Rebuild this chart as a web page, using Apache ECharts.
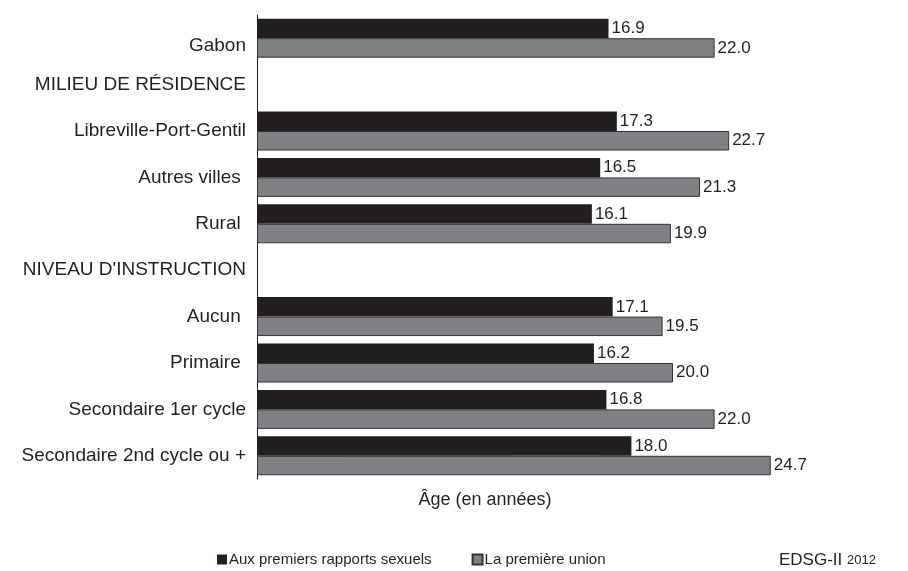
<!DOCTYPE html>
<html>
<head>
<meta charset="utf-8">
<script src="https://cdn.jsdelivr.net/npm/echarts@6/dist/echarts.min.js"></script>
<style>
  html, body { margin: 0; padding: 0; background: #fff; }
  #chart { width: 908px; height: 571px; }
</style>
</head>
<body>
<div id="chart"></div>
<script>
// categories, top to bottom (header rows have no bars)
const categories = [
  'Gabon',
  'MILIEU DE RÉSIDENCE',
  'Libreville-Port-Gentil',
  'Autres villes ',
  'Rural ',
  "NIVEAU D'INSTRUCTION",
  'Aucun ',
  'Primaire ',
  'Secondaire 1er cycle',
  'Secondaire 2nd cycle ou +'
]
const premiersRapports = [16.9, '-', 17.3, 16.5, 16.1, '-', 17.1, 16.2, 16.8, 18.0]
const premiereUnion = [22.0, '-', 22.7, 21.3, 19.9, '-', 19.5, 20.0, 22.0, 24.7]

const font = 'Liberation Sans, Arial, sans-serif'
const chart = echarts.init(document.getElementById('chart'))

const valueLabel = {
  show: true,
  position: 'right',
  distance: 3,
  color: '#231f20',
  fontFamily: font,
  fontSize: 17,
  formatter: p => Number(p.value).toFixed(1)
}

chart.setOption({
  animation: false,
  grid: {
    left: 257,
    top: 15,
    right: 27,
    bottom: 92
  },
  xAxis: {
    type: 'value',
    min: 0,
    max: 30,
    show: false
  },
  yAxis: {
    type: 'category',
    data: categories,
    inverse: true,
    axisLine: { show: true, lineStyle: { color: '#231f20', width: 1 } },
    axisTick: { show: false },
    axisLabel: {
      margin: 11,
      color: '#231f20',
      fontFamily: font,
      fontSize: 19,
      // the first label sits a little lower in the original
      formatter: (v, i) => i === 0 ? '{low|' + v + '}' : v,
      rich: {
        low: { fontFamily: font, fontSize: 19, color: '#231f20', padding: [16, 0, 0, 0] }
      }
    }
  },
  legend: {
    left: 212,
    top: 547,
    icon: 'rect',
    itemWidth: 10,
    itemHeight: 10,
    itemGap: 40,
    textStyle: { color: '#231f20', fontFamily: font, fontSize: 15, padding: [0, 0, 0, -3] },
    data: ['Aux premiers rapports sexuels', 'La première union']
  },
  graphic: [
    {
      type: 'text',
      x: 485,
      y: 491,
      style: {
        text: 'Âge (en années)',
        fill: '#231f20',
        font: '18px ' + font,
        align: 'center'
      }
    },
    {
      type: 'text',
      left: 779,
      top: 552,
      style: {
        text: '{a|EDSG-II }{b|2012}',
        rich: {
          a: { fill: '#231f20', fontFamily: font, fontSize: 17 },
          b: { fill: '#231f20', fontFamily: font, fontSize: 13 }
        }
      }
    }
  ],
  series: [
    {
      name: 'Aux premiers rapports sexuels',
      type: 'bar',
      data: premiersRapports,
      barGap: '0%',
      barCategoryGap: '16%',
      itemStyle: { color: '#231f20' },
      label: valueLabel
    },
    {
      name: 'La première union',
      type: 'bar',
      data: premiereUnion,
      barGap: '0%',
      barCategoryGap: '16%',
      itemStyle: { color: '#808184', borderColor: '#333333', borderWidth: 1 },
      label: valueLabel
    }
  ]
})
</script>
</body>
</html>
